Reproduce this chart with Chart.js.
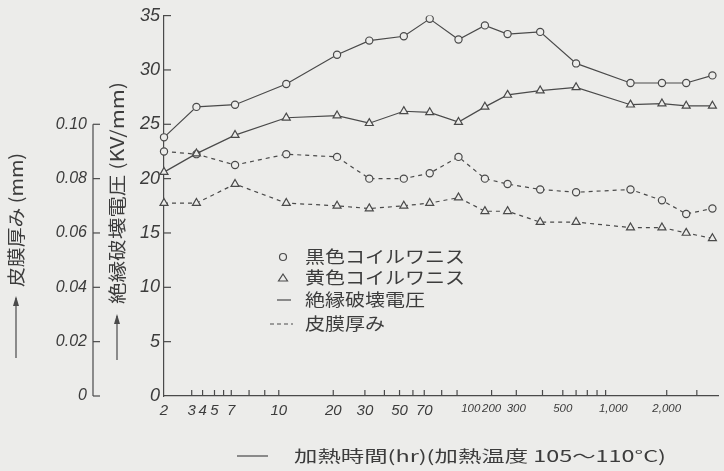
<!DOCTYPE html>
<html>
<head>
<meta charset="utf-8">
<script src="https://cdn.jsdelivr.net/npm/chart.js@4.4.1/dist/chart.umd.min.js"></script>
<style>
  html, body { margin: 0; padding: 0; background: #ececea; }
  #wrap { width: 724px; height: 471px; }
</style>
</head>
<body>
<div id="wrap"><canvas id="c" width="724" height="471"></canvas></div>
<script>
// Heating time (hr) of each measurement
const hours = [2, 3.4, 7.2, 11, 21, 32, 53, 73, 91, 160, 260, 390, 600, 1250, 1880, 2600, 3700];

// Dielectric breakdown voltage (kV/mm)
const blackVoltage  = [23.8, 26.6, 26.8, 28.7, 31.4, 32.7, 33.1, 34.7, 32.8, 34.1, 33.3, 33.5, 30.6, 28.8, 28.8, 28.8, 29.5];
const yellowVoltage = [20.6, 22.3, 24.0, 25.6, 25.8, 25.1, 26.2, 26.1, 25.2, 26.6, 27.7, 28.1, 28.4, 26.8, 26.9, 26.7, 26.7];

// Film thickness (mm)
const blackThickness  = [0.090, 0.089, 0.085, 0.089, 0.088, 0.080, 0.080, 0.082, 0.088, 0.080, 0.078, 0.076, 0.075, 0.076, 0.072, 0.067, 0.069];
const yellowThickness = [0.071, 0.071, 0.078, 0.071, 0.070, 0.069, 0.070, 0.071, 0.073, 0.068, 0.068, 0.064, 0.064, 0.062, 0.062, 0.060, 0.058];

// Labelled hours on the time axis, and the small unlabelled marks between them
const hourTicks  = [2, 3, 4, 5, 7, 10, 20, 30, 50, 70, 100, 200, 300, 500, 1000, 2000];
const hourMinors = [3, 4, 5, 6, 7, 8, 9, 10, 20, 30, 40, 50, 60, 70, 80, 90, 200, 300, 400, 500, 600, 700, 800, 900, 2000, 3000];

// Legend entries
const legendRows = [
  { mark: 'circle',   text: '黒色コイルワニス' },
  { mark: 'triangle', text: '黄色コイルワニス' },
  { mark: 'solid',    text: '絶縁破壊電圧' },
  { mark: 'dashed',   text: '皮膜厚み' }
];

const ink = '#4a4a4a';
const paper = '#ececea';

// The time axis is a hand-ruled log axis whose decades are not evenly spaced:
// each stop gives an hour value and its fraction along the axis, and values are
// interpolated logarithmically between neighbouring stops.
const timeAxisStops = [
  [2, 0], [3, 0.050], [4, 0.0696], [5, 0.0911], [7, 0.1214], [10, 0.2071],
  [20, 0.3054], [30, 0.3625], [50, 0.425], [70, 0.4696], [100, 0.5536],
  [200, 0.5911], [300, 0.6357], [500, 0.7196], [1000, 0.8107], [2000, 0.9071], [4000, 1]
];

class SegmentedLogScale extends Chart.LinearScale {
  determineDataLimits() {
    this.min = timeAxisStops[0][0];
    this.max = timeAxisStops[timeAxisStops.length - 1][0];
  }
  buildTicks() {
    return hourTicks.map(v => ({ value: v }));
  }
  _segment(value) {
    let i = 0;
    while (i < timeAxisStops.length - 2 && value > timeAxisStops[i + 1][0]) i++;
    return i;
  }
  getPixelForValue(value) {
    if (value === null || !(value > 0)) return NaN;
    const i = this._segment(value);
    const [h0, f0] = timeAxisStops[i];
    const [h1, f1] = timeAxisStops[i + 1];
    const t = (Math.log(value) - Math.log(h0)) / (Math.log(h1) - Math.log(h0));
    return this.getPixelForDecimal(f0 + t * (f1 - f0));
  }
  getValueForPixel(pixel) {
    const d = this.getDecimalForPixel(pixel);
    let i = 0;
    while (i < timeAxisStops.length - 2 && d > timeAxisStops[i + 1][1]) i++;
    const [h0, f0] = timeAxisStops[i];
    const [h1, f1] = timeAxisStops[i + 1];
    const t = (d - f0) / (f1 - f0);
    return Math.exp(Math.log(h0) + t * (Math.log(h1) - Math.log(h0)));
  }
}
SegmentedLogScale.id = 'segmentedLog';
SegmentedLogScale.defaults = {};
Chart.register(SegmentedLogScale);

function line(ctx, x1, y1, x2, y2) {
  ctx.beginPath();
  ctx.moveTo(x1, y1);
  ctx.lineTo(x2, y2);
  ctx.stroke();
}

// Draws text stretched or squeezed to a given run length along its baseline
function fittedText(ctx, text, x, y, length, angle) {
  ctx.save();
  ctx.translate(x, y);
  ctx.rotate(angle);
  const w = ctx.measureText(text).width;
  ctx.scale(length / w, 1);
  ctx.fillText(text, 0, 0);
  ctx.restore();
}

function arrowUp(ctx, x, yBottom, yTop) {
  line(ctx, x, yBottom, x, yTop);
  ctx.beginPath();
  ctx.moveTo(x, yTop - 2);
  ctx.lineTo(x - 3, yTop + 8);
  ctx.lineTo(x + 3, yTop + 8);
  ctx.closePath();
  ctx.fill();
}

const decorations = {
  id: 'decorations',
  beforeDraw(chart) {
    const ctx = chart.ctx;
    ctx.save();
    ctx.fillStyle = paper;
    ctx.fillRect(0, 0, chart.width, chart.height);
    ctx.restore();
  },
  afterDraw(chart) {
    const { ctx, scales: { x, yV, yT } } = chart;
    ctx.save();
    ctx.strokeStyle = ink;
    ctx.fillStyle = ink;
    ctx.lineWidth = 1.2;

    // voltage axis: tick marks pointing into the plot
    yV.ticks.forEach(t => {
      if (t.value === 0) return;
      const y = yV.getPixelForValue(t.value);
      line(ctx, yV.right, y, yV.right + 7, y);
    });

    // thickness axis: its own short spine from 0 to 0.10 mm
    const sx = yT.right;
    line(ctx, sx, yT.getPixelForValue(0.1), sx, yT.getPixelForValue(0));
    yT.ticks.forEach(t => {
      const y = yT.getPixelForValue(t.value);
      line(ctx, sx, y, sx + 7, y);
    });

    // small upright marks along the time axis
    hourMinors.forEach(h => {
      const px = x.getPixelForValue(h);
      line(ctx, px, x.top, px, x.top - 6);
    });

    // axis titles
    ctx.fillStyle = '#3c3c3c';
    ctx.textBaseline = 'middle';
    ctx.textAlign = 'left';
    ctx.font = '18px "Noto Sans CJK JP"';
    fittedText(ctx, '絶縁破壊電圧 (KV/mm)', 117, 304, 222, -Math.PI / 2);
    fittedText(ctx, '皮膜厚み (mm)', 16, 287, 134, -Math.PI / 2);
    ctx.font = '16px "Noto Sans CJK JP"';
    fittedText(ctx, '加熱時間(hr)(加熱温度 105～110°C)', 294, 456, 372, 0);
    ctx.fillStyle = ink;
    arrowUp(ctx, 117, 360, 316);
    arrowUp(ctx, 16, 358, 298);
    line(ctx, 237, 456, 268, 456);

    // legend
    const rowsY = [257, 278, 300, 324];
    ctx.font = '17px "Noto Sans CJK JP"';
    legendRows.forEach((row, i) => {
      const y = rowsY[i];
      ctx.strokeStyle = ink;
      ctx.lineWidth = 1.2;
      ctx.setLineDash([]);
      if (row.mark === 'circle') {
        ctx.beginPath();
        ctx.arc(283, y, 3.5, 0, Math.PI * 2);
        ctx.stroke();
      } else if (row.mark === 'triangle') {
        ctx.beginPath();
        ctx.moveTo(283, y - 4);
        ctx.lineTo(278.5, y + 3);
        ctx.lineTo(287.5, y + 3);
        ctx.closePath();
        ctx.stroke();
      } else if (row.mark === 'solid') {
        line(ctx, 277, y, 291, y);
      } else {
        ctx.setLineDash([4, 3]);
        line(ctx, 270, y, 293, y);
        ctx.setLineDash([]);
      }
      ctx.fillStyle = '#3c3c3c';
      fittedText(ctx, row.text, 305, y, row.text.length * 20, 0);
    });
    ctx.restore();
  }
};

function series(values) {
  return hours.map((h, i) => ({ x: h, y: values[i] }));
}

const baseSet = {
  borderColor: ink,
  borderWidth: 1.2,
  pointBorderColor: ink,
  pointBackgroundColor: paper,
  pointBorderWidth: 1.2,
  tension: 0,
  fill: false
};

new Chart(document.getElementById('c'), {
  type: 'line',
  data: {
    datasets: [
      Object.assign({}, baseSet, { label: '黒色コイルワニス 絶縁破壊電圧', data: series(blackVoltage), yAxisID: 'yV', pointStyle: 'circle', pointRadius: 3.6 }),
      Object.assign({}, baseSet, { label: '黄色コイルワニス 絶縁破壊電圧', data: series(yellowVoltage), yAxisID: 'yV', pointStyle: 'triangle', pointRadius: 4.6 }),
      Object.assign({}, baseSet, { label: '黒色コイルワニス 皮膜厚み', data: series(blackThickness), yAxisID: 'yT', pointStyle: 'circle', pointRadius: 3.6, borderDash: [4, 4] }),
      Object.assign({}, baseSet, { label: '黄色コイルワニス 皮膜厚み', data: series(yellowThickness), yAxisID: 'yT', pointStyle: 'triangle', pointRadius: 4.6, borderDash: [4, 4] })
    ]
  },
  options: {
    responsive: false,
    animation: false,
    devicePixelRatio: 1,
    layout: { padding: { top: 11, right: 0, bottom: 0, left: 0 } },
    plugins: { legend: { display: false }, tooltip: { enabled: false } },
    scales: {
      x: {
        type: 'segmentedLog',
        position: 'bottom',
        grid: { display: false, drawTicks: false },
        border: { display: true, color: ink, width: 1.2 },
        ticks: {
          autoSkip: false,
          maxRotation: 0,
          padding: 6,
          color: '#3c3c3c',
          font: ctx => ({ family: '"Liberation Sans"', style: 'italic', size: ctx.tick && ctx.tick.value >= 100 ? 11.5 : 15 }),
          callback: v => v >= 1000 ? v.toLocaleString('en-US') : String(v)
        },
        afterFit: s => { s.height = 75; }
      },
      yV: {
        type: 'linear',
        position: 'left',
        weight: 0,
        min: 0,
        max: 35,
        grid: { display: false, drawTicks: false },
        border: { display: true, color: ink, width: 1.2 },
        ticks: {
          stepSize: 5,
          padding: 4,
          color: '#3c3c3c',
          font: { family: '"Liberation Sans"', style: 'italic', size: 18 },
          callback: v => String(v)
        },
        afterFit: s => { s.width = 71; }
      },
      yT: {
        type: 'linear',
        position: 'left',
        weight: 1,
        min: 0,
        max: 0.14,
        grid: { display: false, drawTicks: false },
        border: { display: false },
        ticks: {
          stepSize: 0.02,
          padding: 6,
          color: '#3c3c3c',
          font: { family: '"Liberation Sans"', style: 'italic', size: 16 },
          callback: v => v === 0 ? '0' : v.toFixed(2)
        },
        afterBuildTicks: s => { s.ticks = s.ticks.filter(t => t.value <= 0.1 + 1e-9); },
        afterFit: s => { s.width = 93; }
      }
    }
  },
  plugins: [decorations]
});
</script>
</body>
</html>
